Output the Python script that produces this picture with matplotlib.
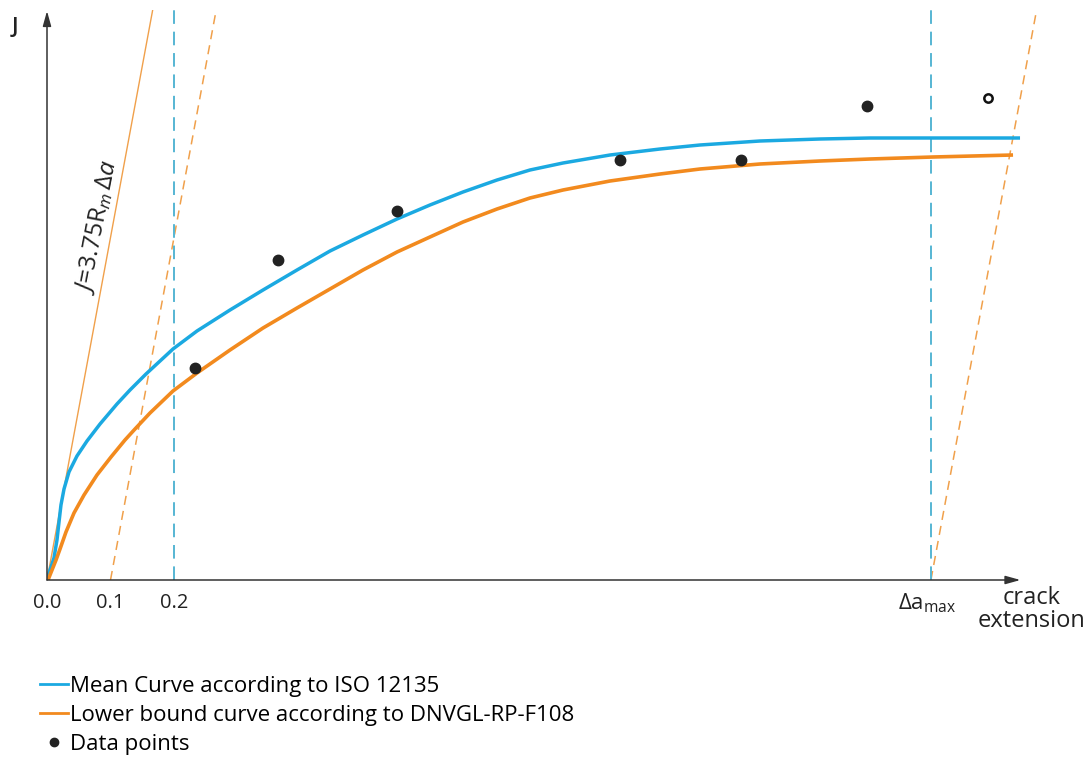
import matplotlib.pyplot as plt
from matplotlib.lines import Line2D

plt.rcParams['font.family'] = ['Open Sans', 'DejaVu Sans']
plt.rcParams['mathtext.fontset'] = 'custom'
plt.rcParams['mathtext.rm'] = 'Open Sans'
plt.rcParams['mathtext.it'] = 'Open Sans:italic'
plt.rcParams['mathtext.bf'] = 'Open Sans:bold'

# mean curve (ISO 12135)
mean_x = [0.0, 0.0047, 0.0110, 0.0157, 0.0189, 0.0220, 0.0268, 0.0346, 0.0472, 0.0630,
          0.0835, 0.1102, 0.1307, 0.1559, 0.1780, 0.1984, 0.2362, 0.2882, 0.3402,
          0.3937, 0.4457, 0.4976, 0.5512, 0.6031, 0.6551, 0.7087, 0.7606, 0.8126, 0.8866,
          0.9654, 1.0283, 1.1228, 1.2173, 1.2961, 1.3953, 1.5323]
mean_j = [0.0, 0.020, 0.044, 0.080, 0.116, 0.150, 0.182, 0.216, 0.248, 0.278,
          0.312, 0.352, 0.380, 0.412, 0.438, 0.462, 0.498, 0.540, 0.580,
          0.620, 0.658, 0.690, 0.722, 0.750, 0.776, 0.800, 0.820, 0.834, 0.850,
          0.862, 0.870, 0.878, 0.882, 0.884, 0.884, 0.884]

# lower bound curve (DNVGL-RP-F108)
low_x = [0.0016, 0.0079, 0.0142, 0.0205, 0.0299, 0.0425, 0.0583, 0.0787, 0.1008, 0.1228,
         0.1386, 0.1622, 0.1984, 0.2362, 0.2882, 0.3402, 0.3937, 0.4457, 0.4976, 0.5512,
         0.6031, 0.6551, 0.7087, 0.7606, 0.8126, 0.8866, 0.9654, 1.0283, 1.1228, 1.2173,
         1.2961, 1.3953, 1.5213]
low_j = [0.0, 0.020, 0.040, 0.062, 0.096, 0.134, 0.170, 0.210, 0.246, 0.280,
         0.302, 0.334, 0.378, 0.414, 0.460, 0.504, 0.544, 0.582, 0.620, 0.656,
         0.686, 0.716, 0.742, 0.764, 0.780, 0.798, 0.812, 0.822, 0.832, 0.838,
         0.842, 0.846, 0.850]

# data points
pts_x = [0.233, 0.364, 0.551, 0.902, 1.093, 1.291]
pts_j = [0.424, 0.64, 0.738, 0.84, 0.84, 0.948]
open_x = [1.482]
open_j = [0.964]

blunt_slope = 6.85      # J = 3.75 Rm da
offsets = [0.1, 1.392]  # 0.1 mm offset line and da_max
da_max = 1.392
x_ticks = [0.0, 0.1, 0.2]
x_labels = ['0.0', '0.1', '0.2']

blue = '#1ba9e1'
orange = '#f28a1e'
cyan = '#56b6d3'
ink = '#222222'

fig = plt.figure(figsize=(10.9, 7.63), dpi=100)
ax = fig.add_axes([47 / 1090, 183 / 763, 1.57 * 635 / 1090, 570 / 763])
ax.set_xlim(0, 1.57)
ax.set_ylim(0, 1.14)
for s in ax.spines.values():
    s.set_visible(False)
ax.set_xticks([])
ax.set_yticks([])

# axes with arrows
arrow = dict(arrowstyle='-|>,head_length=0.9,head_width=0.25', color='#333333', lw=1.1,
             shrinkA=0, shrinkB=0)
ax.annotate('', xy=(1.533, 0), xytext=(0, 0), annotation_clip=False, arrowprops=arrow)
ax.annotate('', xy=(0, 1.138), xytext=(0, 0), annotation_clip=False, arrowprops=arrow)

# blunting line and offset lines
ax.plot([0, 1.14 / blunt_slope], [0, 1.14], color='#f0a04b', lw=1.0)
for off in offsets:
    ax.plot([off, off + 1.14 / blunt_slope], [0, 1.14], color='#f0a04b', lw=1.1,
            dashes=(6, 4))

# exclusion lines
for xv in [0.2, da_max]:
    ax.plot([xv, xv], [0, 1.14], color=cyan, lw=1.4, dashes=(7, 4))

ax.plot(mean_x, mean_j, color=blue, lw=2.5, solid_capstyle='butt', solid_joinstyle='round')
ax.plot(low_x, low_j, color=orange, lw=2.6, solid_capstyle='butt', solid_joinstyle='round')
ax.plot(pts_x, pts_j, 'o', color=ink, ms=7.5)
ax.plot(open_x, open_j, 'o', mfc='white', mec='#111111', mew=1.8, ms=6)

# labels
for xv, lab in zip(x_ticks, x_labels):
    ax.text(xv, -0.046, lab, ha='center', va='center', fontsize=14.5, color=ink, clip_on=False)
ax.text(da_max - 0.006, -0.046, r'$\Delta$a$_{\mathrm{max}}$', ha='center', va='center',
        fontsize=16, color=ink, clip_on=False)
ax.text(1.550, -0.036, 'crack', ha='center', va='center', fontsize=17, color=ink, clip_on=False)
ax.text(1.550, -0.082, 'extension', ha='center', va='center', fontsize=17, color=ink, clip_on=False)
ax.text(-0.050, 1.104, 'J', ha='center', va='center', fontsize=16, fontweight='semibold',
        color=ink, clip_on=False)
ax.text(0.0790, 0.705, r'$J$=3.75R$_m$$\,\Delta$$a$', rotation=79, rotation_mode='anchor',
        ha='center', va='center', fontsize=17.5, color=ink)

handles = [Line2D([], [], color=blue, lw=2),
           Line2D([], [], color=orange, lw=2),
           Line2D([], [], ls='none', marker='o', color=ink, ms=6)]
labels = ['Mean Curve according to ISO 12135',
          'Lower bound curve according to DNVGL-RP-F108',
          'Data points']
fig.legend(handles, labels, loc='upper left', bbox_to_anchor=(40 / 1090, 1 - 676 / 763),
           frameon=False, fontsize=16, handlelength=1.26, handletextpad=0.1,
           labelspacing=0.36, borderpad=0, borderaxespad=0)

fig.savefig('out.png', dpi=100)
